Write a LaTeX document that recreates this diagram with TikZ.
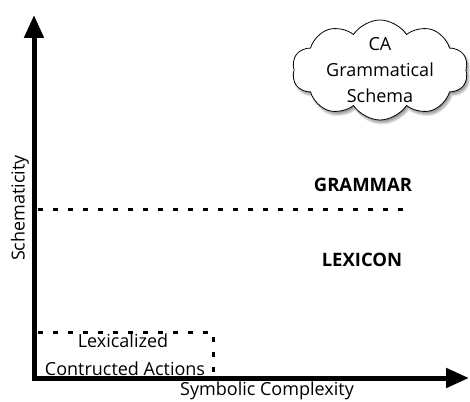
\documentclass[tikz,border=0pt]{standalone}
\usepackage{fontspec}
\setmainfont{Open Sans}
\usetikzlibrary{shapes.symbols, arrows.meta, shadows.blur}
\tikzset{
    axis/.style={
        -{Triangle[length=23pt, width=19pt]}, line width=5pt, color=black
    },
    divider/.style={
        line width=3pt, dash pattern=on 5pt off 10pt, color=black
    },
    label/.style={
        font=\fontsize{18}{20}\selectfont, text=black, inner sep=0pt
    },
    layer/.style={
        font=\fontsize{18.5}{20}\selectfont\bfseries, text=black, inner sep=0pt
    },
    thought/.style={
        cloud, cloud puffs=10, cloud puff arc=115, aspect=2,
        draw=black, line width=0.8pt, fill=white,
        minimum width=176pt, minimum height=100pt,
        blur shadow={shadow xshift=2pt, shadow yshift=-3pt, shadow blur steps=6},
        align=center, inner xsep=0pt, inner ysep=-9pt,
        font=\fontsize{18}{26}\selectfont,
    },
}

\begin{document}
\begin{tikzpicture}[x=1pt, y=-1pt]

    \useasboundingbox (0, 0) rectangle (470, 401);

    % ── Axes ──
    \coordinate (origin) at (34, 378);
    \coordinate (ytip)   at (34, 15);
    \coordinate (xtip)   at (469, 378);
    \draw[axis] ([yshift=-2.5pt]origin) -- (ytip);
    \draw[axis] ([xshift=-2.5pt]origin) -- (xtip);

    \node[label, rotate=90] (yname) at (20, 208) {Schematicity};
    \node[label] (xname) at (267, 391) {Symbolic Complexity};

    % ── Grammar / lexicon divider ──
    \coordinate (divl) at (38, 209);
    \coordinate (divr) at (404, 209);
    \draw[divider] (divl) -- (divr);

    \node[layer] (grammar) at (363, 185) {GRAMMAR};
    \node[layer] (lexicon) at (362, 260) {LEXICON};

    % ── Lexicalized region ──
    \coordinate (boxl) at (38, 332);
    \coordinate (boxc) at (213, 332);
    \coordinate (boxb) at (213, 376);
    \draw[divider] (boxl) -- (boxc) -- (boxb);

    \node[label] (lexical) at (123, 341) {Lexicalized};
    \node[label] (actions) at (125, 369) {Contructed Actions};

    % ── Cloud ──
    \node[thought] (schema) at (380, 70) {CA\\Grammatical\\Schema};

\end{tikzpicture}
\end{document}
